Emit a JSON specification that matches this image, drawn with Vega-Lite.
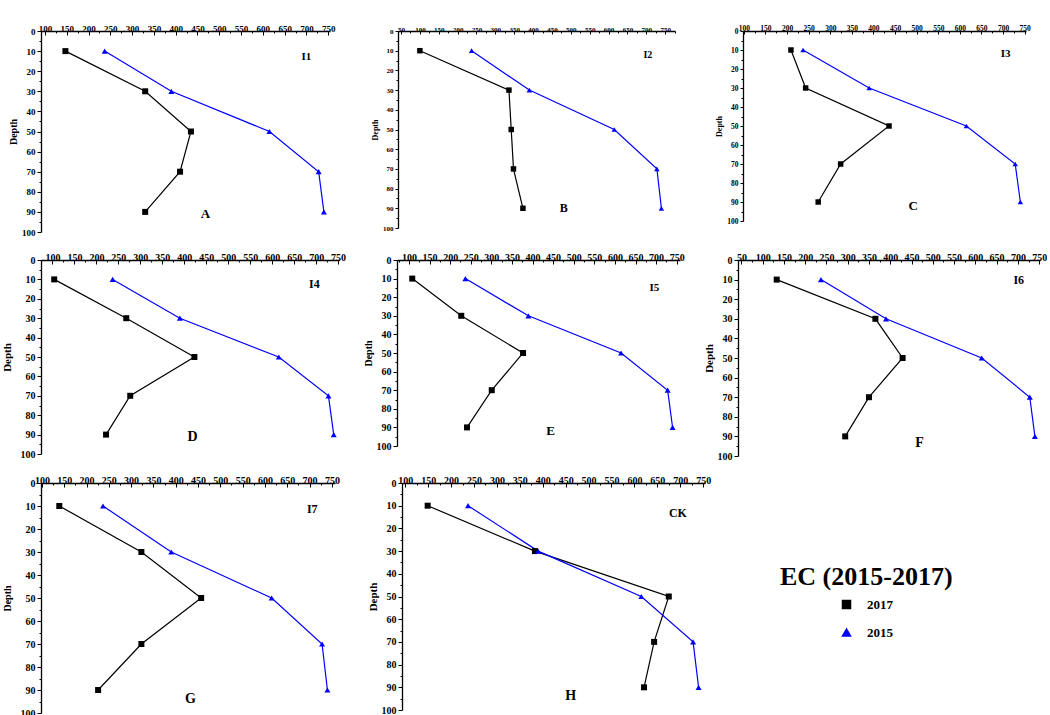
{
  "$schema": "https://vega.github.io/schema/vega-lite/v6.json",
  "background": "white",
  "padding": {"left": 1, "top": 22, "right": 0, "bottom": 0},
  "spacing": 13,
  "config": {
    "view": {"stroke": null},
    "font": "Liberation Serif",
    "axis": {
      "labelFont": "Liberation Serif", "labelFontWeight": "bold", "labelColor": "#000",
      "titleFont": "Liberation Serif", "titleFontWeight": "bold", "titleColor": "#000",
      "domainColor": "#000", "tickColor": "#000", "domainWidth": 1.3, "tickWidth": 1,
      "grid": false, "labelFlush": false, "labelOverlap": false, "labelPadding": 2
    },
    "legend": {
      "titleFont": "Liberation Serif", "titleFontWeight": "bold", "titleColor": "#000",
      "titleFontSize": 26, "titlePadding": 8, "labelFont": "Liberation Serif",
      "labelFontWeight": "bold", "labelColor": "#000", "labelFontSize": 13,
      "symbolSize": 64, "rowPadding": 14, "symbolOffset": 60, "labelOffset": 14
    }
  },
  "datasets": {
    "ec": [
      {"plot": "I1", "year": "2017", "depth": 10, "ec": 147},
      {"plot": "I1", "year": "2017", "depth": 30, "ec": 330},
      {"plot": "I1", "year": "2017", "depth": 50, "ec": 435},
      {"plot": "I1", "year": "2017", "depth": 70, "ec": 410},
      {"plot": "I1", "year": "2017", "depth": 90, "ec": 330},
      {"plot": "I1", "year": "2015", "depth": 10, "ec": 237},
      {"plot": "I1", "year": "2015", "depth": 30, "ec": 390},
      {"plot": "I1", "year": "2015", "depth": 50, "ec": 615},
      {"plot": "I1", "year": "2015", "depth": 70, "ec": 728},
      {"plot": "I1", "year": "2015", "depth": 90, "ec": 740},
      {"plot": "I2", "year": "2017", "depth": 10, "ec": 100},
      {"plot": "I2", "year": "2017", "depth": 30, "ec": 336},
      {"plot": "I2", "year": "2017", "depth": 50, "ec": 342},
      {"plot": "I2", "year": "2017", "depth": 70, "ec": 348},
      {"plot": "I2", "year": "2017", "depth": 90, "ec": 373},
      {"plot": "I2", "year": "2015", "depth": 10, "ec": 237},
      {"plot": "I2", "year": "2015", "depth": 30, "ec": 390},
      {"plot": "I2", "year": "2015", "depth": 50, "ec": 615},
      {"plot": "I2", "year": "2015", "depth": 70, "ec": 728},
      {"plot": "I2", "year": "2015", "depth": 90, "ec": 740},
      {"plot": "I3", "year": "2017", "depth": 10, "ec": 209},
      {"plot": "I3", "year": "2017", "depth": 30, "ec": 243},
      {"plot": "I3", "year": "2017", "depth": 50, "ec": 436},
      {"plot": "I3", "year": "2017", "depth": 70, "ec": 324},
      {"plot": "I3", "year": "2017", "depth": 90, "ec": 272},
      {"plot": "I3", "year": "2015", "depth": 10, "ec": 237},
      {"plot": "I3", "year": "2015", "depth": 30, "ec": 390},
      {"plot": "I3", "year": "2015", "depth": 50, "ec": 615},
      {"plot": "I3", "year": "2015", "depth": 70, "ec": 728},
      {"plot": "I3", "year": "2015", "depth": 90, "ec": 740},
      {"plot": "I4", "year": "2017", "depth": 10, "ec": 104},
      {"plot": "I4", "year": "2017", "depth": 30, "ec": 268},
      {"plot": "I4", "year": "2017", "depth": 50, "ec": 423},
      {"plot": "I4", "year": "2017", "depth": 70, "ec": 277},
      {"plot": "I4", "year": "2017", "depth": 90, "ec": 222},
      {"plot": "I4", "year": "2015", "depth": 10, "ec": 237},
      {"plot": "I4", "year": "2015", "depth": 30, "ec": 390},
      {"plot": "I4", "year": "2015", "depth": 50, "ec": 615},
      {"plot": "I4", "year": "2015", "depth": 70, "ec": 728},
      {"plot": "I4", "year": "2015", "depth": 90, "ec": 740},
      {"plot": "I5", "year": "2017", "depth": 10, "ec": 108},
      {"plot": "I5", "year": "2017", "depth": 30, "ec": 227},
      {"plot": "I5", "year": "2017", "depth": 50, "ec": 377},
      {"plot": "I5", "year": "2017", "depth": 70, "ec": 301},
      {"plot": "I5", "year": "2017", "depth": 90, "ec": 241},
      {"plot": "I5", "year": "2015", "depth": 10, "ec": 237},
      {"plot": "I5", "year": "2015", "depth": 30, "ec": 390},
      {"plot": "I5", "year": "2015", "depth": 50, "ec": 615},
      {"plot": "I5", "year": "2015", "depth": 70, "ec": 728},
      {"plot": "I5", "year": "2015", "depth": 90, "ec": 740},
      {"plot": "I6", "year": "2017", "depth": 10, "ec": 133},
      {"plot": "I6", "year": "2017", "depth": 30, "ec": 365},
      {"plot": "I6", "year": "2017", "depth": 50, "ec": 429},
      {"plot": "I6", "year": "2017", "depth": 70, "ec": 350},
      {"plot": "I6", "year": "2017", "depth": 90, "ec": 294},
      {"plot": "I6", "year": "2015", "depth": 10, "ec": 237},
      {"plot": "I6", "year": "2015", "depth": 30, "ec": 390},
      {"plot": "I6", "year": "2015", "depth": 50, "ec": 615},
      {"plot": "I6", "year": "2015", "depth": 70, "ec": 728},
      {"plot": "I6", "year": "2015", "depth": 90, "ec": 740},
      {"plot": "I7", "year": "2017", "depth": 10, "ec": 139},
      {"plot": "I7", "year": "2017", "depth": 30, "ec": 323},
      {"plot": "I7", "year": "2017", "depth": 50, "ec": 457},
      {"plot": "I7", "year": "2017", "depth": 70, "ec": 323},
      {"plot": "I7", "year": "2017", "depth": 90, "ec": 226},
      {"plot": "I7", "year": "2015", "depth": 10, "ec": 237},
      {"plot": "I7", "year": "2015", "depth": 30, "ec": 390},
      {"plot": "I7", "year": "2015", "depth": 50, "ec": 615},
      {"plot": "I7", "year": "2015", "depth": 70, "ec": 728},
      {"plot": "I7", "year": "2015", "depth": 90, "ec": 740},
      {"plot": "CK", "year": "2017", "depth": 10, "ec": 149},
      {"plot": "CK", "year": "2017", "depth": 30, "ec": 383},
      {"plot": "CK", "year": "2017", "depth": 50, "ec": 675},
      {"plot": "CK", "year": "2017", "depth": 70, "ec": 643},
      {"plot": "CK", "year": "2017", "depth": 90, "ec": 621},
      {"plot": "CK", "year": "2015", "depth": 10, "ec": 237},
      {"plot": "CK", "year": "2015", "depth": 30, "ec": 390},
      {"plot": "CK", "year": "2015", "depth": 50, "ec": 615},
      {"plot": "CK", "year": "2015", "depth": 70, "ec": 728},
      {"plot": "CK", "year": "2015", "depth": 90, "ec": 740}
    ]
  },
  "vconcat": [
    {
      "bounds": "flush",
      "spacing": 68,
      "hconcat": [
        {
          "width": 289, "height": 201,
          "data": {"name": "ec"},
          "transform": [{"filter": "datum.plot === 'I1'"}],
          "layer": [
            {
              "mark": {"type": "line", "strokeWidth": 1.2, "point": {"filled": true, "size": 36}},
              "encoding": {
                "x": {"field": "ec", "type": "quantitative", "scale": {"domain": [91, 754], "nice": false, "zero": false},
                  "axis": {"orient": "top", "title": null, "labelFontSize": 9, "format": "d", "tickCount": 200,
                    "values": [100,125,150,175,200,225,250,275,300,325,350,375,400,425,450,475,500,525,550,575,600,625,650,675,700,725,750],
                    "labelExpr": "datum.value % 50 === 0 ? datum.label : ''",
                    "tickSize": {"condition": {"test": "datum.value % 50 === 0", "value": -4}, "value": -2}}},
                "y": {"field": "depth", "type": "quantitative", "scale": {"domain": [0, 100], "reverse": true, "nice": false},
                  "axis": {"title": "Depth", "titleFontSize": 10, "labelFontSize": 9, "titlePadding": 3, "format": "d", "tickCount": 200,
                    "values": [0,5,10,15,20,25,30,35,40,45,50,55,60,65,70,75,80,85,90,95,100],
                    "labelExpr": "datum.value % 10 === 0 ? datum.label : ''",
                    "tickSize": {"condition": {"test": "datum.value % 10 === 0", "value": 4}, "value": 2}}},
                "color": {"field": "year", "type": "nominal", "scale": {"domain": ["2017", "2015"], "range": ["#000000", "#0000ff"]},
                  "legend": {"title": "EC (2015-2017)", "orient": "none", "legendX": 739, "legendY": 533}},
                "shape": {"field": "year", "type": "nominal", "scale": {"domain": ["2017", "2015"], "range": ["square", "triangle-up"]},
                  "legend": {"title": "EC (2015-2017)", "orient": "none", "legendX": 739, "legendY": 533}},
                "order": {"field": "depth"}
              }
            },
            {"data": {"values": [{}]}, "mark": {"type": "text", "fontWeight": "bold", "fontSize": 11, "color": "#000"},
              "encoding": {"x": {"datum": 700}, "y": {"datum": 13}, "text": {"value": "I1"}}},
            {"data": {"values": [{}]}, "mark": {"type": "text", "fontWeight": "bold", "fontSize": 13, "color": "#000"},
              "encoding": {"x": {"datum": 468}, "y": {"datum": 91}, "text": {"value": "A"}}}
          ]
        },
        {
          "width": 277, "height": 197,
          "data": {"name": "ec"},
          "transform": [{"filter": "datum.plot === 'I2'"}],
          "layer": [
            {
              "mark": {"type": "line", "strokeWidth": 1.2, "point": {"filled": true, "size": 30}},
              "encoding": {
                "x": {"field": "ec", "type": "quantitative", "scale": {"domain": [42, 776], "nice": false, "zero": false},
                  "axis": {"orient": "top", "title": null, "labelFontSize": 7, "format": "d", "tickCount": 200,
                    "values": [50,75,100,125,150,175,200,225,250,275,300,325,350,375,400,425,450,475,500,525,550,575,600,625,650,675,700,725,750,775],
                    "labelExpr": "datum.value % 50 === 0 ? datum.label : ''",
                    "tickSize": {"condition": {"test": "datum.value % 50 === 0", "value": -3}, "value": -2}}},
                "y": {"field": "depth", "type": "quantitative", "scale": {"domain": [0, 100], "reverse": true, "nice": false},
                  "axis": {"title": "Depth", "titleFontSize": 8, "labelFontSize": 7, "titlePadding": 3, "format": "d", "tickCount": 200,
                    "values": [0,5,10,15,20,25,30,35,40,45,50,55,60,65,70,75,80,85,90,95,100],
                    "labelExpr": "datum.value % 10 === 0 ? datum.label : ''",
                    "tickSize": {"condition": {"test": "datum.value % 10 === 0", "value": 3}, "value": 2}}},
                "color": {"field": "year", "type": "nominal", "scale": {"domain": ["2017", "2015"], "range": ["#000000", "#0000ff"]},
                  "legend": {"title": "EC (2015-2017)", "orient": "none", "legendX": 739, "legendY": 533}},
                "shape": {"field": "year", "type": "nominal", "scale": {"domain": ["2017", "2015"], "range": ["square", "triangle-up"]},
                  "legend": {"title": "EC (2015-2017)", "orient": "none", "legendX": 739, "legendY": 533}},
                "order": {"field": "depth"}
              }
            },
            {"data": {"values": [{}]}, "mark": {"type": "text", "fontWeight": "bold", "fontSize": 10, "color": "#000"},
              "encoding": {"x": {"datum": 704}, "y": {"datum": 12}, "text": {"value": "I2"}}},
            {"data": {"values": [{}]}, "mark": {"type": "text", "fontWeight": "bold", "fontSize": 12, "color": "#000"},
              "encoding": {"x": {"datum": 481}, "y": {"datum": 90}, "text": {"value": "B"}}}
          ]
        },
        {
          "width": 283, "height": 190,
          "data": {"name": "ec"},
          "transform": [{"filter": "datum.plot === 'I3'"}],
          "layer": [
            {
              "mark": {"type": "line", "strokeWidth": 1.2, "point": {"filled": true, "size": 30}},
              "encoding": {
                "x": {"field": "ec", "type": "quantitative", "scale": {"domain": [98, 753], "nice": false, "zero": false},
                  "axis": {"orient": "top", "title": null, "labelFontSize": 7.5, "format": "d", "tickCount": 200,
                    "values": [100,125,150,175,200,225,250,275,300,325,350,375,400,425,450,475,500,525,550,575,600,625,650,675,700,725,750],
                    "labelExpr": "datum.value % 50 === 0 ? datum.label : ''",
                    "tickSize": {"condition": {"test": "datum.value % 50 === 0", "value": -3}, "value": -2}}},
                "y": {"field": "depth", "type": "quantitative", "scale": {"domain": [0, 100], "reverse": true, "nice": false},
                  "axis": {"title": "Depth", "titleFontSize": 8, "labelFontSize": 7.5, "titlePadding": 3, "format": "d", "tickCount": 200,
                    "values": [0,5,10,15,20,25,30,35,40,45,50,55,60,65,70,75,80,85,90,95,100],
                    "labelExpr": "datum.value % 10 === 0 ? datum.label : ''",
                    "tickSize": {"condition": {"test": "datum.value % 10 === 0", "value": 3}, "value": 2}}},
                "color": {"field": "year", "type": "nominal", "scale": {"domain": ["2017", "2015"], "range": ["#000000", "#0000ff"]},
                  "legend": {"title": "EC (2015-2017)", "orient": "none", "legendX": 739, "legendY": 533}},
                "shape": {"field": "year", "type": "nominal", "scale": {"domain": ["2017", "2015"], "range": ["square", "triangle-up"]},
                  "legend": {"title": "EC (2015-2017)", "orient": "none", "legendX": 739, "legendY": 533}},
                "order": {"field": "depth"}
              }
            },
            {"data": {"values": [{}]}, "mark": {"type": "text", "fontWeight": "bold", "fontSize": 11, "color": "#000"},
              "encoding": {"x": {"datum": 706}, "y": {"datum": 12}, "text": {"value": "I3"}}},
            {"data": {"values": [{}]}, "mark": {"type": "text", "fontWeight": "bold", "fontSize": 13, "color": "#000"},
              "encoding": {"x": {"datum": 492}, "y": {"datum": 92}, "text": {"value": "C"}}}
          ]
        }
      ]
    },
    {
      "spacing": 12,
      "vconcat": [
        {
          "bounds": "flush",
          "spacing": 58,
          "hconcat": [
            {
              "width": 298, "height": 194,
              "data": {"name": "ec"},
              "transform": [{"filter": "datum.plot === 'I4'"}],
              "layer": [
                {
                  "mark": {"type": "line", "strokeWidth": 1.2, "point": {"filled": true, "size": 36}},
                  "encoding": {
                    "x": {"field": "ec", "type": "quantitative", "scale": {"domain": [74, 752], "nice": false, "zero": false},
                      "axis": {"orient": "top", "title": null, "labelFontSize": 10, "format": "d", "tickCount": 200,
                        "values": [75,100,125,150,175,200,225,250,275,300,325,350,375,400,425,450,475,500,525,550,575,600,625,650,675,700,725,750],
                        "labelExpr": "datum.value % 50 === 0 ? datum.label : ''",
                        "tickSize": {"condition": {"test": "datum.value % 50 === 0", "value": -4}, "value": -2}}},
                    "y": {"field": "depth", "type": "quantitative", "scale": {"domain": [0, 100], "reverse": true, "nice": false},
                      "axis": {"title": "Depth", "titleFontSize": 11, "labelFontSize": 10, "titlePadding": 8, "format": "d", "tickCount": 200,
                        "values": [0,5,10,15,20,25,30,35,40,45,50,55,60,65,70,75,80,85,90,95,100],
                        "labelExpr": "datum.value % 10 === 0 ? datum.label : ''",
                        "tickSize": {"condition": {"test": "datum.value % 10 === 0", "value": 4}, "value": 2}}},
                    "color": {"field": "year", "type": "nominal", "scale": {"domain": ["2017", "2015"], "range": ["#000000", "#0000ff"]},
                      "legend": {"title": "EC (2015-2017)", "orient": "none", "legendX": 739, "legendY": 533}},
                    "shape": {"field": "year", "type": "nominal", "scale": {"domain": ["2017", "2015"], "range": ["square", "triangle-up"]},
                      "legend": {"title": "EC (2015-2017)", "orient": "none", "legendX": 739, "legendY": 533}},
                    "order": {"field": "depth"}
                  }
                },
                {"data": {"values": [{}]}, "mark": {"type": "text", "fontWeight": "bold", "fontSize": 12, "color": "#000"},
                  "encoding": {"x": {"datum": 696}, "y": {"datum": 12.5}, "text": {"value": "I4"}}},
                {"data": {"values": [{}]}, "mark": {"type": "text", "fontWeight": "bold", "fontSize": 14, "color": "#000"},
                  "encoding": {"x": {"datum": 419}, "y": {"datum": 91}, "text": {"value": "D"}}}
              ]
            },
            {
              "width": 283, "height": 186,
              "data": {"name": "ec"},
              "transform": [{"filter": "datum.plot === 'I5'"}],
              "layer": [
                {
                  "mark": {"type": "line", "strokeWidth": 1.2, "point": {"filled": true, "size": 36}},
                  "encoding": {
                    "x": {"field": "ec", "type": "quantitative", "scale": {"domain": [71, 758], "nice": false, "zero": false},
                      "axis": {"orient": "top", "title": null, "labelFontSize": 10, "format": "d", "tickCount": 200,
                        "values": [75,100,125,150,175,200,225,250,275,300,325,350,375,400,425,450,475,500,525,550,575,600,625,650,675,700,725,750],
                        "labelExpr": "datum.value % 50 === 0 ? datum.label : ''",
                        "tickSize": {"condition": {"test": "datum.value % 50 === 0", "value": -4}, "value": -2}}},
                    "y": {"field": "depth", "type": "quantitative", "scale": {"domain": [0, 100], "reverse": true, "nice": false},
                      "axis": {"title": "Depth", "titleFontSize": 10, "labelFontSize": 10, "titlePadding": 3, "format": "d", "tickCount": 200,
                        "values": [0,5,10,15,20,25,30,35,40,45,50,55,60,65,70,75,80,85,90,95,100],
                        "labelExpr": "datum.value % 10 === 0 ? datum.label : ''",
                        "tickSize": {"condition": {"test": "datum.value % 10 === 0", "value": 4}, "value": 2}}},
                    "color": {"field": "year", "type": "nominal", "scale": {"domain": ["2017", "2015"], "range": ["#000000", "#0000ff"]},
                      "legend": {"title": "EC (2015-2017)", "orient": "none", "legendX": 739, "legendY": 533}},
                    "shape": {"field": "year", "type": "nominal", "scale": {"domain": ["2017", "2015"], "range": ["square", "triangle-up"]},
                      "legend": {"title": "EC (2015-2017)", "orient": "none", "legendX": 739, "legendY": 533}},
                    "order": {"field": "depth"}
                  }
                },
                {"data": {"values": [{}]}, "mark": {"type": "text", "fontWeight": "bold", "fontSize": 11, "color": "#000"},
                  "encoding": {"x": {"datum": 696}, "y": {"datum": 15}, "text": {"value": "I5"}}},
                {"data": {"values": [{}]}, "mark": {"type": "text", "fontWeight": "bold", "fontSize": 13, "color": "#000"},
                  "encoding": {"x": {"datum": 444}, "y": {"datum": 92}, "text": {"value": "E"}}}
              ]
            },
            {
              "width": 302, "height": 196,
              "data": {"name": "ec"},
              "transform": [{"filter": "datum.plot === 'I6'"}],
              "layer": [
                {
                  "mark": {"type": "line", "strokeWidth": 1.2, "point": {"filled": true, "size": 36}},
                  "encoding": {
                    "x": {"field": "ec", "type": "quantitative", "scale": {"domain": [42, 752], "nice": false, "zero": false},
                      "axis": {"orient": "top", "title": null, "labelFontSize": 10, "format": "d", "tickCount": 200,
                        "values": [50,75,100,125,150,175,200,225,250,275,300,325,350,375,400,425,450,475,500,525,550,575,600,625,650,675,700,725,750],
                        "labelExpr": "datum.value % 50 === 0 ? datum.label : ''",
                        "tickSize": {"condition": {"test": "datum.value % 50 === 0", "value": -4}, "value": -2}}},
                    "y": {"field": "depth", "type": "quantitative", "scale": {"domain": [0, 100], "reverse": true, "nice": false},
                      "axis": {"title": "Depth", "titleFontSize": 11, "labelFontSize": 10, "titlePadding": 3, "format": "d", "tickCount": 200,
                        "values": [0,5,10,15,20,25,30,35,40,45,50,55,60,65,70,75,80,85,90,95,100],
                        "labelExpr": "datum.value % 10 === 0 ? datum.label : ''",
                        "tickSize": {"condition": {"test": "datum.value % 10 === 0", "value": 4}, "value": 2}}},
                    "color": {"field": "year", "type": "nominal", "scale": {"domain": ["2017", "2015"], "range": ["#000000", "#0000ff"]},
                      "legend": {"title": "EC (2015-2017)", "orient": "none", "legendX": 739, "legendY": 533}},
                    "shape": {"field": "year", "type": "nominal", "scale": {"domain": ["2017", "2015"], "range": ["square", "triangle-up"]},
                      "legend": {"title": "EC (2015-2017)", "orient": "none", "legendX": 739, "legendY": 533}},
                    "order": {"field": "depth"}
                  }
                },
                {"data": {"values": [{}]}, "mark": {"type": "text", "fontWeight": "bold", "fontSize": 12, "color": "#000"},
                  "encoding": {"x": {"datum": 702}, "y": {"datum": 10}, "text": {"value": "I6"}}},
                {"data": {"values": [{}]}, "mark": {"type": "text", "fontWeight": "bold", "fontSize": 14, "color": "#000"},
                  "encoding": {"x": {"datum": 469}, "y": {"datum": 93.5}, "text": {"value": "F"}}}
              ]
            }
          ]
        },
        {
          "bounds": "flush",
          "spacing": 67,
          "hconcat": [
            {
              "width": 294, "height": 230,
              "data": {"name": "ec"},
              "transform": [{"filter": "datum.plot === 'I7'"}],
              "layer": [
                {
                  "mark": {"type": "line", "strokeWidth": 1.2, "point": {"filled": true, "size": 36}},
                  "encoding": {
                    "x": {"field": "ec", "type": "quantitative", "scale": {"domain": [98, 757], "nice": false, "zero": false},
                      "axis": {"orient": "top", "title": null, "labelFontSize": 10, "format": "d", "tickCount": 200,
                        "values": [100,125,150,175,200,225,250,275,300,325,350,375,400,425,450,475,500,525,550,575,600,625,650,675,700,725,750],
                        "labelExpr": "datum.value % 50 === 0 ? datum.label : ''",
                        "tickSize": {"condition": {"test": "datum.value % 50 === 0", "value": -4}, "value": -2}}},
                    "y": {"field": "depth", "type": "quantitative", "scale": {"domain": [0, 100], "reverse": true, "nice": false},
                      "axis": {"title": "Depth", "titleFontSize": 10, "labelFontSize": 10, "titlePadding": 8, "format": "d", "tickCount": 200,
                        "values": [0,5,10,15,20,25,30,35,40,45,50,55,60,65,70,75,80,85,90,95,100],
                        "labelExpr": "datum.value % 10 === 0 ? datum.label : ''",
                        "tickSize": {"condition": {"test": "datum.value % 10 === 0", "value": 4}, "value": 2}}},
                    "color": {"field": "year", "type": "nominal", "scale": {"domain": ["2017", "2015"], "range": ["#000000", "#0000ff"]},
                      "legend": {"title": "EC (2015-2017)", "orient": "none", "legendX": 739, "legendY": 533}},
                    "shape": {"field": "year", "type": "nominal", "scale": {"domain": ["2017", "2015"], "range": ["square", "triangle-up"]},
                      "legend": {"title": "EC (2015-2017)", "orient": "none", "legendX": 739, "legendY": 533}},
                    "order": {"field": "depth"}
                  }
                },
                {"data": {"values": [{}]}, "mark": {"type": "text", "fontWeight": "bold", "fontSize": 12, "color": "#000"},
                  "encoding": {"x": {"datum": 706}, "y": {"datum": 11.5}, "text": {"value": "I7"}}},
                {"data": {"values": [{}]}, "mark": {"type": "text", "fontWeight": "bold", "fontSize": 14, "color": "#000"},
                  "encoding": {"x": {"datum": 433}, "y": {"datum": 94}, "text": {"value": "G"}}}
              ]
            },
            {
              "width": 303, "height": 227,
              "data": {"name": "ec"},
              "transform": [{"filter": "datum.plot === 'CK'"}],
              "layer": [
                {
                  "mark": {"type": "line", "strokeWidth": 1.2, "point": {"filled": true, "size": 36}},
                  "encoding": {
                    "x": {"field": "ec", "type": "quantitative", "scale": {"domain": [93, 754], "nice": false, "zero": false},
                      "axis": {"orient": "top", "title": null, "labelFontSize": 10, "format": "d", "tickCount": 200,
                        "values": [100,125,150,175,200,225,250,275,300,325,350,375,400,425,450,475,500,525,550,575,600,625,650,675,700,725,750],
                        "labelExpr": "datum.value % 50 === 0 ? datum.label : ''",
                        "tickSize": {"condition": {"test": "datum.value % 50 === 0", "value": -4}, "value": -2}}},
                    "y": {"field": "depth", "type": "quantitative", "scale": {"domain": [0, 100], "reverse": true, "nice": false},
                      "axis": {"title": "Depth", "titleFontSize": 11, "labelFontSize": 10, "titlePadding": 3, "format": "d", "tickCount": 200,
                        "values": [0,5,10,15,20,25,30,35,40,45,50,55,60,65,70,75,80,85,90,95,100],
                        "labelExpr": "datum.value % 10 === 0 ? datum.label : ''",
                        "tickSize": {"condition": {"test": "datum.value % 10 === 0", "value": 4}, "value": 2}}},
                    "color": {"field": "year", "type": "nominal", "scale": {"domain": ["2017", "2015"], "range": ["#000000", "#0000ff"]},
                      "legend": {"title": "EC (2015-2017)", "orient": "none", "legendX": 739, "legendY": 533}},
                    "shape": {"field": "year", "type": "nominal", "scale": {"domain": ["2017", "2015"], "range": ["square", "triangle-up"]},
                      "legend": {"title": "EC (2015-2017)", "orient": "none", "legendX": 739, "legendY": 533}},
                    "order": {"field": "depth"}
                  }
                },
                {"data": {"values": [{}]}, "mark": {"type": "text", "fontWeight": "bold", "fontSize": 12, "color": "#000"},
                  "encoding": {"x": {"datum": 695}, "y": {"datum": 13}, "text": {"value": "CK"}}},
                {"data": {"values": [{}]}, "mark": {"type": "text", "fontWeight": "bold", "fontSize": 14, "color": "#000"},
                  "encoding": {"x": {"datum": 461}, "y": {"datum": 94}, "text": {"value": "H"}}}
              ]
            }
          ]
        }
      ]
    }
  ]
}
